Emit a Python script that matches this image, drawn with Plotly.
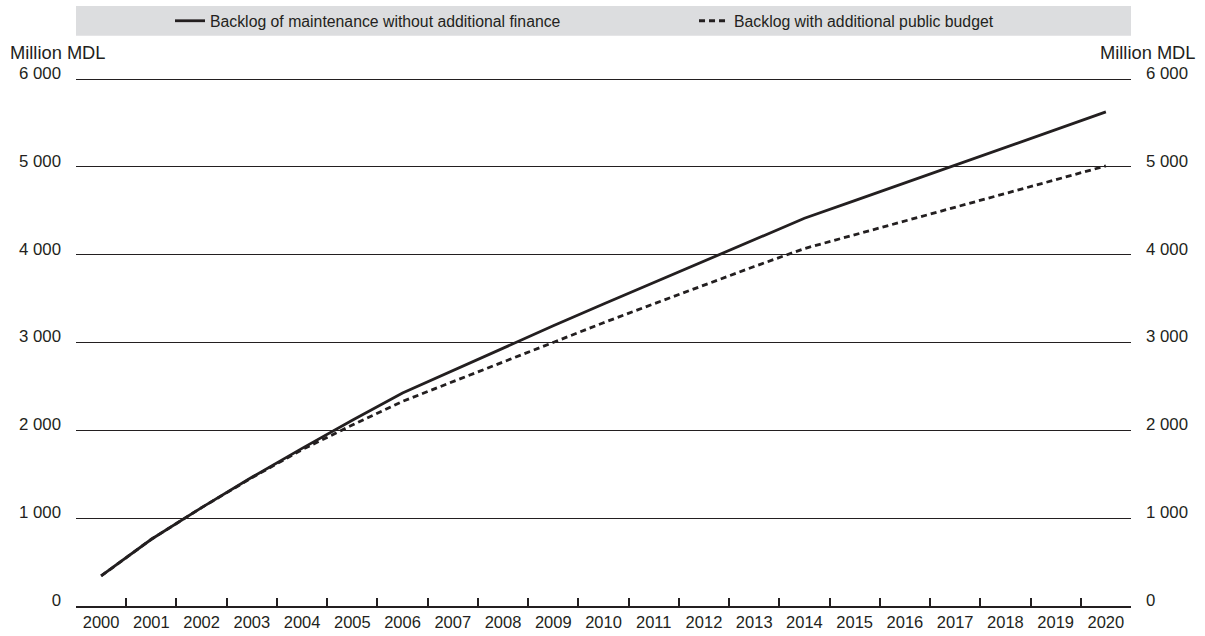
import plotly.graph_objects as go

years = list(range(2000, 2021))
backlog_no_finance = [342, 760, 1120, 1465, 1795, 2115, 2425, 2682, 2938, 3190, 3438,
                      3684, 3928, 4172, 4414, 4616, 4818, 5020, 5222, 5424, 5625]
backlog_public_budget = [342, 760, 1120, 1460, 1780, 2060, 2330, 2555, 2780, 3005, 3225,
                         3440, 3655, 3865, 4070, 4227, 4384, 4540, 4697, 4853, 5010]
name_solid = "Backlog of maintenance without additional finance"
name_dash = "Backlog with additional public budget"
y_ticks = [0, 1000, 2000, 3000, 4000, 5000, 6000]
unit_label = "Million MDL"

INK = "#231f20"
FONT = "Liberation Sans, Arial, sans-serif"

fig = go.Figure()
fig.add_trace(go.Scatter(x=years, y=backlog_no_finance, name=name_solid, mode="lines",
                         legend="legend",
                         line=dict(color=INK, width=2.8)))
fig.add_trace(go.Scatter(x=years, y=backlog_public_budget, name=name_dash, mode="lines",
                         legend="legend2",
                         line=dict(color=INK, width=2.8, dash="6px,4px")))
# invisible helper trace for the secondary axes
fig.add_trace(go.Scatter(x=[years[0]], y=[0], xaxis="x2", yaxis="y2", mode="lines",
                         showlegend=False, hoverinfo="skip", line=dict(width=0)))

xr = [years[0] - 0.5, years[-1] + 0.5]
# a little headroom so the top gridline is not clipped at the plot edge
yr = [y_ticks[0], y_ticks[-1] * 530 / 527]

legend_common = dict(orientation="h", y=1.1038, yanchor="middle", xanchor="left",
                     bgcolor="rgba(0,0,0,0)",
                     font=dict(family=FONT, size=15.8, color=INK))

fig.update_layout(
    width=1205, height=636,
    margin=dict(l=76, r=74, t=76, b=30, autoexpand=False),
    paper_bgcolor="white", plot_bgcolor="white",
    separators=". ",
    showlegend=True,
    legend=dict(x=0.0891, **legend_common),
    legend2=dict(x=0.5858, **legend_common),
    xaxis=dict(range=xr, tickvals=years, ticktext=[str(y) for y in years], ticks="",
               showgrid=False, zeroline=False, showline=True, linecolor=INK, linewidth=2,
               automargin=False,
               tickfont=dict(family=FONT, size=16.5, color=INK), ticklabelstandoff=0),
    xaxis2=dict(range=xr, overlaying="x", anchor="y", side="bottom",
                tickvals=[y + 0.5 for y in years[:-1]], showticklabels=False,
                ticks="inside", ticklen=8, tickwidth=1.5, tickcolor=INK, automargin=False,
                showgrid=False, zeroline=False, showline=False),
    yaxis=dict(range=yr, tickvals=y_ticks, tickformat=",d", ticks="",
               showgrid=True, gridcolor=INK, gridwidth=1.2, zeroline=False, showline=False,
               automargin=False,
               tickfont=dict(family=FONT, size=16.8, color=INK),
               ticklabelstandoff=14, ticklabelshift=-6),
    yaxis2=dict(range=yr, overlaying="y", side="right", anchor="x", tickvals=y_ticks,
                tickformat=",d", ticks="", showgrid=False, zeroline=False, showline=False,
                automargin=False,
                tickfont=dict(family=FONT, size=16.8, color=INK),
                ticklabelstandoff=14, ticklabelshift=-6),
    shapes=[dict(type="rect", xref="paper", yref="paper", x0=0, x1=1,
                 y0=1.076, y1=1.1321, fillcolor="#dcdddf", line=dict(width=0),
                 layer="below")],
    annotations=[
        dict(text=unit_label, xref="paper", yref="paper", x=-0.0648, y=1.0434,
             xanchor="left", yanchor="middle", showarrow=False,
             font=dict(family=FONT, size=18.3, color=INK)),
        dict(text=unit_label, xref="paper", yref="paper", x=1.0639, y=1.0434,
             xanchor="right", yanchor="middle", showarrow=False,
             font=dict(family=FONT, size=18.3, color=INK)),
    ],
)

fig.write_html("out.html", config={"displayModeBar": False},
               post_script="document.body.style.margin='0';")
